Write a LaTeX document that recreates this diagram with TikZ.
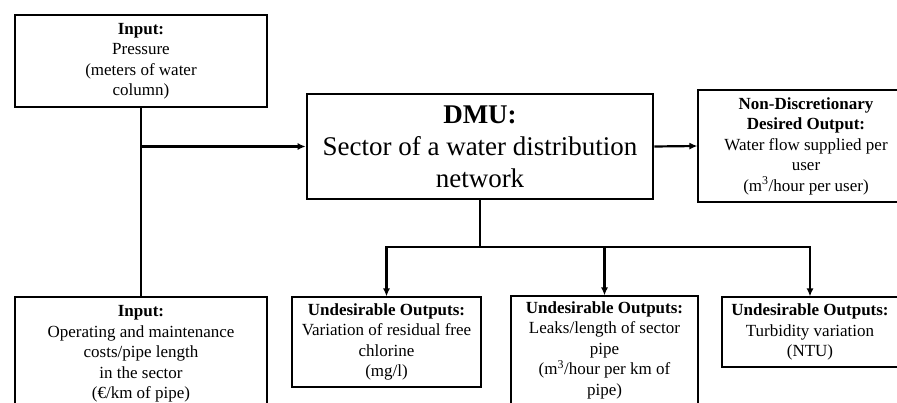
\documentclass[tikz,border=0pt]{standalone}
\usepackage{fontspec}
\setmainfont{Liberation Serif}
\usetikzlibrary{arrows.meta}
\tikzset{
  box/.style={draw, line width=1.1pt, rectangle, align=center, inner sep=0pt, font=\fontsize{17}{20.5}\selectfont},
  dmubox/.style={draw, line width=2.6pt, rectangle, align=center, inner sep=0pt, font=\fontsize{27}{32}\selectfont},
  conn/.style={line width=2.2pt},
  arr/.style={conn, -{Latex[length=8pt,width=7pt]}},
}
\begin{document}
\begin{tikzpicture}[x=1pt,y=-1pt]
\useasboundingbox (0,0) rectangle (897,403);
\clip (0,0) rectangle (897,403);
\fill[white] (0,0) rectangle (897,403);

\node[box, minimum width=252pt, minimum height=92pt] (tl) at (141,61)
  {\textbf{Input:}\\Pressure\\(meters of water\\column)};
\node[box, minimum width=252pt, minimum height=114pt] (bl) at (141,354)
  {\textbf{Input:}\\Operating and maintenance\\costs/pipe length\\in the sector\\(€/km of pipe)};
\node[dmubox, minimum width=346pt, minimum height=105pt] (dmu) at (480,146.5)
  {\textbf{DMU:}\\Sector of a water distribution\\network};
\node[box, minimum width=216pt, minimum height=112pt] (nd) at (806,146)
  {\textbf{Non-Discretionary}\\\textbf{Desired Output:}\\Water flow supplied per\\user\\(m\textsuperscript{3}/hour per user)};
\node[box, minimum width=189pt, minimum height=90pt] (u1) at (386.5,342)
  {\textbf{Undesirable Outputs:}\\Variation of residual free\\chlorine\\(mg/l)};
\node[box, minimum width=187pt, minimum height=108pt] (u2) at (604.5,350)
  {\textbf{Undesirable Outputs:}\\Leaks/length of sector\\pipe\\(m\textsuperscript{3}/hour per km of\\pipe)};
\node[box, minimum width=176pt, minimum height=70pt] (u3) at (810,332)
  {\textbf{Undesirable Outputs:}\\Turbidity variation\\(NTU)};

\coordinate (hub) at (480,247);
\draw[conn] (tl.south) -- (bl.north);
\draw[arr] (tl.south |- dmu.west) -- (dmu.west);
\draw[arr] (dmu.east) -- (nd.west);
\draw[conn] (dmu.south) -- (hub);
\draw[conn, line cap=rect] (u1.north |- hub) -- (u3.north |- hub);
\draw[arr] (u1.north |- hub) -- (u1.north);
\draw[arr] (u2.north |- hub) -- (u2.north);
\draw[arr] (u3.north |- hub) -- (u3.north);
\end{tikzpicture}
\end{document}
